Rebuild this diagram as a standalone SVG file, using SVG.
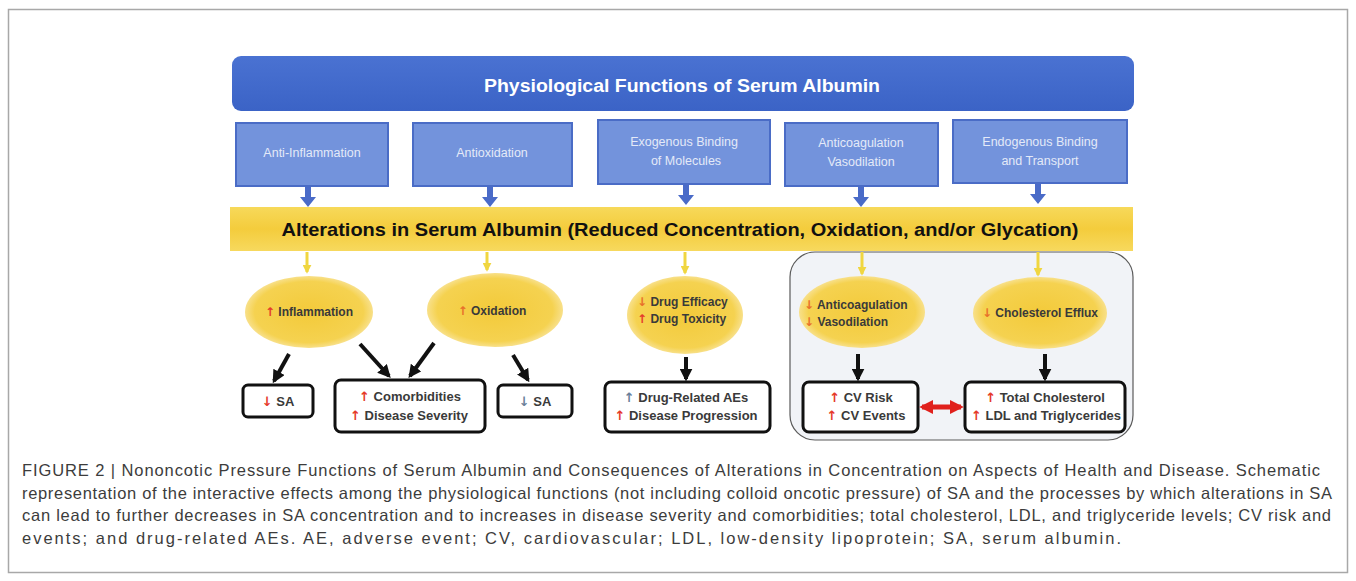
<svg xmlns="http://www.w3.org/2000/svg" width="1356" height="581" viewBox="0 0 1356 581">
<style>
.frame{fill:#fff;stroke:#a8a8a8;stroke-width:1.5}
.bbox{fill:#7393dc;stroke:#4a6cc6;stroke-width:2}
.btxt{font-family:"Liberation Sans",Arial,sans-serif;font-size:12.5px;fill:#e4eaf8;text-anchor:middle}
.etxt{font-family:"Liberation Sans",Arial,sans-serif;font-size:12px;font-weight:bold;fill:#3a3a3a;text-anchor:middle}
.otxt{font-family:"Liberation Sans",Arial,sans-serif;font-size:13px;font-weight:bold;fill:#3a3a3a;text-anchor:middle}
.st{text-anchor:start}
.ar{font-family:"DejaVu Sans",sans-serif;font-weight:bold}
.rbox{fill:#fff;stroke:#111;stroke-width:3}
.up{fill:#e53a2a}
.dn{fill:#e8702a}
.gr{fill:#6a7f99}
.blk{stroke:#111;stroke-width:4;fill:none}
.yel{stroke:#f0d640;stroke-width:3;fill:none}
.cap{font-family:"Liberation Sans",Arial,sans-serif;font-size:16.5px;fill:#3c3c3c}
</style>
<defs>
<linearGradient id="gTitle" x1="0" y1="0" x2="0" y2="1">
<stop offset="0" stop-color="#4a72d2"/><stop offset="1" stop-color="#3b63c6"/>
</linearGradient>
<linearGradient id="gBand" x1="0" y1="0" x2="0" y2="1">
<stop offset="0" stop-color="#f7d95a"/><stop offset="0.5" stop-color="#f4cc3c"/><stop offset="1" stop-color="#f7d95e"/>
</linearGradient>
<radialGradient id="gEll" cx="0.5" cy="0.5" r="0.5">
<stop offset="0" stop-color="#f3ca3a"/><stop offset="0.85" stop-color="#f5d250"/><stop offset="1" stop-color="#f8e08a"/>
</radialGradient>
<marker id="mBlk" viewBox="0 0 10 10" refX="8" refY="5" markerWidth="13" markerHeight="13" markerUnits="userSpaceOnUse" orient="auto">
<path d="M0,0 L10,5 L0,10 z" fill="#111"/>
</marker>
<marker id="mYel" viewBox="0 0 10 10" refX="8" refY="5" markerWidth="9" markerHeight="9" markerUnits="userSpaceOnUse" orient="auto">
<path d="M0,0 L10,5 L0,10 z" fill="#f0d640"/>
</marker>
<marker id="mRed" viewBox="0 0 10 10" refX="8" refY="5" markerWidth="14" markerHeight="14" markerUnits="userSpaceOnUse" orient="auto-start-reverse">
<path d="M0,0 L10,5 L0,10 z" fill="#e0201c"/>
</marker>
<path id="blueArrow" d="M-3,0 L3,0 L3,10 L8,10 L0,20 L-8,10 L-3,10 z" fill="#4a6bc8"/>
</defs>

<rect class="frame" x="8.5" y="9.5" width="1339" height="563"/>

<g id="group-cv">
<rect x="790" y="252" width="343" height="188" rx="25" fill="#f1f3f7" stroke="#5a5a5a" stroke-width="1.2"/>
</g>

<g id="title">
<rect x="232" y="56" width="902" height="55" rx="9" fill="url(#gTitle)"/>
<text x="682" y="92" font-family="'Liberation Sans',Arial,sans-serif" font-size="18" font-weight="bold" fill="#fff" text-anchor="middle" textLength="396" lengthAdjust="spacingAndGlyphs">Physiological Functions of Serum Albumin</text>
</g>

<g id="f1"><rect class="bbox" x="236" y="123" width="152" height="63"/><text class="btxt" x="312" y="157">Anti-Inflammation</text></g>
<g id="f2"><rect class="bbox" x="413" y="123" width="159" height="63"/><text class="btxt" x="492" y="157">Antioxidation</text></g>
<g id="f3"><rect class="bbox" x="598" y="120" width="172" height="64"/><text class="btxt" x="684" y="146">Exogenous Binding</text><text class="btxt" x="686" y="165">of Molecules</text></g>
<g id="f4"><rect class="bbox" x="785" y="123" width="153" height="63"/><text class="btxt" x="861" y="147">Anticoagulation</text><text class="btxt" x="861" y="166">Vasodilation</text></g>
<g id="f5"><rect class="bbox" x="953" y="120" width="174" height="63"/><text class="btxt" x="1040" y="146">Endogenous Binding</text><text class="btxt" x="1040" y="165">and Transport</text></g>

<g id="alterations">
<rect x="230" y="207" width="903" height="44" fill="url(#gBand)"/>
<text x="680" y="236" font-family="'Liberation Sans',Arial,sans-serif" font-size="19" font-weight="bold" fill="#111" text-anchor="middle" textLength="797" lengthAdjust="spacingAndGlyphs">Alterations in Serum Albumin (Reduced Concentration, Oxidation, and/or Glycation)</text>
</g>

<g id="e1"><ellipse cx="309" cy="312" rx="64" ry="36" fill="url(#gEll)"/><text class="etxt" x="309" y="316"><tspan class="up ar">↑</tspan> Inflammation</text></g>
<g id="e2"><ellipse cx="495" cy="310" rx="68" ry="37" fill="url(#gEll)"/><text class="etxt" x="492" y="315"><tspan class="dn ar">↑</tspan> Oxidation</text></g>
<g id="e3"><ellipse cx="685" cy="315" rx="58" ry="39" fill="url(#gEll)"/><text class="etxt st" x="637" y="306"><tspan class="dn ar">↓</tspan> Drug Efficacy</text><text class="etxt st" x="637" y="323"><tspan class="up ar">↑</tspan> Drug Toxicity</text></g>
<g id="e4"><ellipse cx="862" cy="312" rx="63" ry="36" fill="url(#gEll)"/><text class="etxt st" x="804" y="309"><tspan class="dn ar">↓</tspan> Anticoagulation</text><text class="etxt st" x="804" y="326"><tspan class="dn ar">↓</tspan> Vasodilation</text></g>
<g id="e5"><ellipse cx="1040" cy="313" rx="67" ry="36" fill="url(#gEll)"/><text class="etxt" x="1040" y="317"><tspan class="dn ar">↓</tspan> Cholesterol Efflux</text></g>

<g id="o1"><rect class="rbox" x="243" y="385" width="70" height="32" rx="5"/><text class="otxt" x="278" y="406"><tspan class="up ar">↓</tspan> SA</text></g>
<g id="o2"><rect class="rbox" x="335" y="380" width="150" height="52" rx="6"/><text class="otxt" x="410" y="401"><tspan class="up ar">↑</tspan> Comorbidities</text><text class="otxt" x="409" y="420"><tspan class="up ar">↑</tspan> Disease Severity</text></g>
<g id="o3"><rect class="rbox" x="498" y="385" width="74" height="32" rx="5"/><text class="otxt" x="535" y="406"><tspan class="gr ar">↓</tspan> SA</text></g>
<g id="o4"><rect class="rbox" x="605" y="382" width="165" height="50" rx="6"/><text class="otxt" x="686" y="402"><tspan class="gr ar">↑</tspan> Drug-Related AEs</text><text class="otxt" x="686" y="420"><tspan class="up ar">↑</tspan> Disease Progression</text></g>
<g id="o5"><rect class="rbox" x="803" y="382" width="115" height="50" rx="6"/><text class="otxt" x="861" y="402"><tspan class="up ar">↑</tspan> CV Risk</text><text class="otxt" x="866" y="420"><tspan class="up ar">↑</tspan> CV Events</text></g>
<g id="o6"><rect class="rbox" x="965" y="382" width="160" height="50" rx="6"/><text class="otxt" x="1045" y="402"><tspan class="up ar">↑</tspan> Total Cholesterol</text><text class="otxt" x="1046" y="420"><tspan class="up ar">↑</tspan> LDL and Triglycerides</text></g>

<g id="connectors">
<use href="#blueArrow" x="308" y="187"/>
<use href="#blueArrow" x="490" y="187"/>
<use href="#blueArrow" x="686" y="185"/>
<use href="#blueArrow" x="861" y="187"/>
<use href="#blueArrow" x="1038" y="184"/>
<line class="yel" x1="307" y1="252" x2="307" y2="272" marker-end="url(#mYel)"/>
<line class="yel" x1="487" y1="252" x2="487" y2="270" marker-end="url(#mYel)"/>
<line class="yel" x1="685" y1="252" x2="685" y2="273" marker-end="url(#mYel)"/>
<line class="yel" x1="862" y1="252" x2="862" y2="274" marker-end="url(#mYel)"/>
<line class="yel" x1="1038" y1="252" x2="1038" y2="275" marker-end="url(#mYel)"/>
<line class="blk" x1="289" y1="354" x2="274" y2="381" marker-end="url(#mBlk)"/>
<line class="blk" x1="360" y1="344" x2="389" y2="376" marker-end="url(#mBlk)"/>
<line class="blk" x1="434" y1="343" x2="410" y2="376" marker-end="url(#mBlk)"/>
<line class="blk" x1="513" y1="355" x2="528" y2="380" marker-end="url(#mBlk)"/>
<line class="blk" x1="686" y1="357" x2="686" y2="379" marker-end="url(#mBlk)"/>
<line class="blk" x1="858" y1="354" x2="858" y2="379" marker-end="url(#mBlk)"/>
<line class="blk" x1="1045" y1="354" x2="1045" y2="379" marker-end="url(#mBlk)"/>
<line x1="922" y1="407" x2="961" y2="407" stroke="#e0201c" stroke-width="5" marker-start="url(#mRed)" marker-end="url(#mRed)"/>
</g>

<g id="caption">
<text class="cap" x="22" y="476" textLength="1298" lengthAdjust="spacing">FIGURE 2 | Nononcotic Pressure Functions of Serum Albumin and Consequences of Alterations in Concentration on Aspects of Health and Disease. Schematic</text>
<text class="cap" x="22" y="499" textLength="1310" lengthAdjust="spacing">representation of the interactive effects among the physiological functions (not including colloid oncotic pressure) of SA and the processes by which alterations in SA</text>
<text class="cap" x="22" y="521" textLength="1309" lengthAdjust="spacing">can lead to further decreases in SA concentration and to increases in disease severity and comorbidities; total cholesterol, LDL, and triglyceride levels; CV risk and</text>
<text class="cap" x="22" y="544" textLength="1099" lengthAdjust="spacing">events; and drug-related AEs. AE, adverse event; CV, cardiovascular; LDL, low-density lipoprotein; SA, serum albumin.</text>
</g>
</svg>
